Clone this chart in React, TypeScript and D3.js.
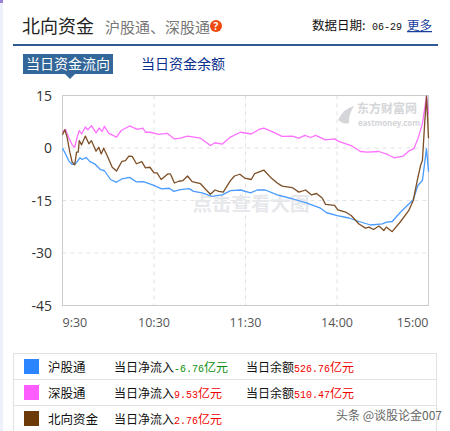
import * as d3 from 'd3';

// minutes of trading time since 9:30, value in 亿元
const shPoints: [number, number][] = [
  [0, -0.05], [2, -1.7], [4, -3.6], [6.3, -4.7], [8, -4.7], [9.6, -3.9], [11.4, -2.8], [12.9, -3.3], [15.5, -2.7],
  [18, -3.9], [21.6, -4.7], [25, -6.2], [27.5, -6.5], [31.5, -9], [35.4, -9.8], [39, -8.8], [44, -8.4], [48.5, -9.7],
  [53, -9.6], [57.7, -10.3], [61, -10.9], [65, -11.7], [70, -11.5], [73, -12.4], [77.4, -11.9], [83, -11.6], [86, -12.4],
  [91.6, -12.8], [98, -13.8], [104.7, -13.4], [110.2, -12.2], [116.8, -12], [123.3, -12.8], [127.7, -12], [133, -12],
  [140.8, -13.4], [150.6, -14.5], [159.4, -15.6], [169.2, -17.2], [173.2, -18.5], [180.2, -19.3], [187.8, -20],
  [194.4, -21], [202, -22], [209.7, -21.7], [212.5, -21.2], [216.2, -21], [221.7, -18.3], [230, -14.8], [233, -10.7],
  [236, -9.3], [238.7, -0.2], [240, -6.76],
];

const szPoints: [number, number][] = [
  [0, 4.5], [2, 5.3], [4, 3.1], [6.3, 0.9], [8, 0.2], [9.6, 3.1], [11, 5], [12.5, 4], [15, 6], [16.6, 5.2], [19, 6.4],
  [22, 4.3], [24, 5.7], [26, 4.7], [27.5, 6.2], [30.4, 4.2], [35.4, 3.1], [38.5, 5], [44, 6.3], [49, 5.3], [52.7, 5.7],
  [54.4, 4.5], [57.7, 4.5], [63, 3.9], [68.6, 4.2], [73.4, 2.6], [77.4, 2.8], [82, 3.4], [90.5, 2.8], [97, 0.7],
  [100, 1.5], [104.7, 1.1], [110, 3.1], [116.8, 4.5], [123.8, 4], [128.8, 5.3], [132, 5.7], [137.5, 4.7], [144, 3.3],
  [150.6, 3.4], [155, 2.8], [159, 3.6], [162.7, 3], [166, 3.6], [172.5, 2.3], [178.4, 2.6], [181, 1.9], [189.3, 0.7],
  [195.4, -1], [199.8, -1.2], [207.5, -1], [213, -1.8], [217.3, -2.8], [223.4, -2.3], [227, -0.9], [230.4, -0.2],
  [233, 2.6], [236, 6.9], [238.7, 14.8], [240, 9.53],
];

const northPoints: [number, number][] = [
  [0, 3.8], [1.5, 5.2], [3, 3.1], [4.8, -1.2], [6.3, -4], [8, -4.8], [9.2, -1.2], [10.3, -1.2], [11, 2.1], [12.5, 0.9],
  [15, 3.4], [17.3, 1.2], [19, 2.1], [22, -0.9], [23.8, 0.2], [25.4, -1.7], [27, -0.05], [29.7, -2.6], [32.6, -5.5],
  [35.4, -6.6], [39, -3.8], [41.3, -3.6], [43.5, -2.3], [45.7, -2.4], [48.5, -4.5], [52, -3.9], [54.4, -5.7], [57.3, -5.5],
  [60, -7.1], [62, -7.1], [64.7, -9], [69, -7.4], [70.8, -7.4], [73.4, -10], [76.3, -9.5], [79, -9.3], [82, -8], [85, -9.6],
  [90.5, -10.2], [93.8, -11.8], [97, -13.2], [100, -12], [102.5, -12.4], [105.4, -12.6], [110, -9.4], [112.8, -8],
  [116.3, -7.5], [119.4, -8.6], [123.8, -9], [126, -7.3], [132, -6.3], [136.9, -8.6], [140.8, -10], [144, -10.9],
  [150.6, -11.3], [155, -12.6], [159.4, -12], [163.3, -13.4], [166.6, -13], [170.3, -14.3], [172.5, -16.1], [178.4, -16.4],
  [180.6, -17.7], [185.6, -18.3], [189.3, -19.3], [194.4, -21.7], [198.7, -22.9], [201, -22.6], [204, -23.3], [207.5, -22.3],
  [210.7, -23.6], [212.3, -22.6], [216.2, -23.9], [221.7, -21], [227, -17.9], [230, -15], [232.6, -9.3], [234.8, -5],
  [236, -3.6], [237.4, 6.4], [238.7, 14.8], [240, 2.76],
];

const yTicks = [15, 0, -15, -30, -45];
const xTicks = [0, 60, 120, 180, 240];
const xTickLabels = ['9:30', '10:30', '11:30', '14:00', '15:00'];

const legendNames = ['沪股通', '深股通', '北向资金'];
const legendColors = ['#2a85ff', '#ff5cff', '#6b3a08'];
const lineColors = ['#4a9bff', '#ff70ff', '#7d4f26'];
const flowTexts = ['-6.76', '9.53', '2.76'];
const balanceTexts = ['526.76', '510.47', ''];

const CJK = '"Noto Sans CJK SC", sans-serif';
const LABEL = '"Open Sans", "Noto Sans", sans-serif';
const MONO = '"Liberation Mono", monospace';

export default function App() {
  const x = d3.scaleLinear().domain([0, 240]).range([62.5, 428.5]);
  const y = d3.scaleLinear().domain([15, -45]).range([95.5, 305.5]);
  const line = d3.line<[number, number]>().x((d) => x(d[0])).y((d) => y(d[1]));
  const series = [shPoints, szPoints, northPoints];

  return (
    <svg
      width={450}
      height={431}
      style={{ position: 'absolute', left: 0, top: 0, background: '#fff' }}
      fontFamily={CJK}
    >
      <rect x={0} y={0} width={3} height={431} fill="#eef0f9" />
      <rect x={0} y={0} width={3} height={3} fill="#9a7fd6" />

      {/* header */}
      <text x={22} y={33} fontSize={18} fill="#222">北向资金</text>
      <text x={105} y={33} fontSize={15} fill="#777">沪股通、深股通</text>
      <circle cx={216} cy={26} r={6} fill="#ee4a10" />
      <text x={216} y={30} fontSize={10} fontWeight="bold" fill="#fff" textAnchor="middle" fontFamily={LABEL}>?</text>
      <text x={312} y={30} fontSize={12.5} fill="#111">数据日期:</text>
      <text x={372} y={30} fontSize={10} fill="#111" fontFamily={MONO}>06-29</text>
      <text x={407} y={30} fontSize={12.5} fill="#1a3e9c" textDecoration="underline">更多</text>
      <rect x={13} y={44} width={425} height={2} fill="#2f5a96" />

      {/* tabs */}
      <rect x={23} y={54} width={90} height={20} fill="#336699" />
      <path d={d3.line()([[65, 74], [75, 74], [70, 79]])!} fill="#336699" />
      <text x={26} y={69} fontSize={14} fill="#fff">当日资金流向</text>
      <text x={141} y={69} fontSize={14} fill="#0a2f8c">当日资金余额</text>

      {/* grid */}
      {yTicks.slice(1, -1).map((t) => (
        <line key={t} x1={x(0)} x2={x(240)} y1={y(t)} y2={y(t)} stroke="#e2e2e2" strokeDasharray="4,4" />
      ))}
      {xTicks.slice(1, -1).map((t) => (
        <line key={t} x1={x(t)} x2={x(t)} y1={y(15)} y2={y(-45)} stroke="#e2e2e2" strokeDasharray="4,4" />
      ))}
      <rect x={x(0)} y={y(15)} width={x(240) - x(0)} height={y(-45) - y(15)} fill="none" stroke="#cccccc" />

      {/* watermarks */}
      <text x={251} y={211} fontSize={19.5} fontWeight="bold" fill="#e6e8eb" textAnchor="middle">点击查看大图</text>
      <path d="M338 120 Q344 108 354 106 Q348 116 349 123 Q344 125 338 120Z" fill="#d4d6d9" />
      <text x={357} y={113} fontSize={12} fontWeight="bold" fill="#d4d6d9">东方财富网</text>
      <text x={358} y={126} fontSize={8} fontWeight="bold" fill="#d4d6d9" fontFamily={LABEL} textLength={62}>eastmoney.com</text>

      {/* lines */}
      {series.map((s, i) => (
        <path key={i} d={line(s)!} fill="none" stroke={lineColors[i]} strokeWidth={1.3} strokeLinejoin="round" />
      ))}

      {/* axis labels */}
      {yTicks.map((t) => (
        <text key={t} x={52} y={y(t) + 5} fontSize={14} fill="#333" textAnchor="end" fontFamily={LABEL}>{t}</text>
      ))}
      {xTicks.map((t, i) => (
        <text
          key={t}
          x={x(t)}
          y={327}
          fontSize={12.5}
          fill="#555"
          textAnchor={i === 0 ? 'start' : i === 4 ? 'end' : 'middle'}
          fontFamily={LABEL}
        >
          {xTickLabels[i]}
        </text>
      ))}

      {/* legend table */}
      <rect x={13.5} y={353.5} width={423} height={80} fill="none" stroke="#e2e2e2" />
      {[1, 2].map((r) => (
        <line key={r} x1={13.5} x2={436.5} y1={353.5 + r * 26} y2={353.5 + r * 26} stroke="#e2e2e2" />
      ))}
      {legendNames.map((name, i) => {
        const top = 353.5 + i * 26;
        const base = top + 18;
        const flowColor = i === 0 ? '#0a8f0a' : '#f00000';
        return (
          <g key={name}>
            <rect x={24} y={top + 5.5} width={15} height={15} fill={legendColors[i]} />
            <text x={48} y={base} fontSize={12.5} fill="#111">{name}</text>
            <text x={114} y={base} fontSize={12} fill="#111">当日净流入</text>
            <text x={174} y={base} fontSize={10} fill={flowColor} fontFamily={MONO}>
              {flowTexts[i]}
              <tspan fontSize={12} fontFamily={CJK}>亿元</tspan>
            </text>
            {balanceTexts[i] && (
              <>
                <text x={246} y={base} fontSize={12} fill="#111">当日余额</text>
                <text x={294} y={base} fontSize={10} fill="#f00000" fontFamily={MONO}>
                  {balanceTexts[i]}
                  <tspan fontSize={12} fontFamily={CJK}>亿元</tspan>
                </text>
              </>
            )}
          </g>
        );
      })}
      <text x={336} y={420} fontSize={12} fill="#666">头条 @谈股论金007</text>
    </svg>
  );
}
